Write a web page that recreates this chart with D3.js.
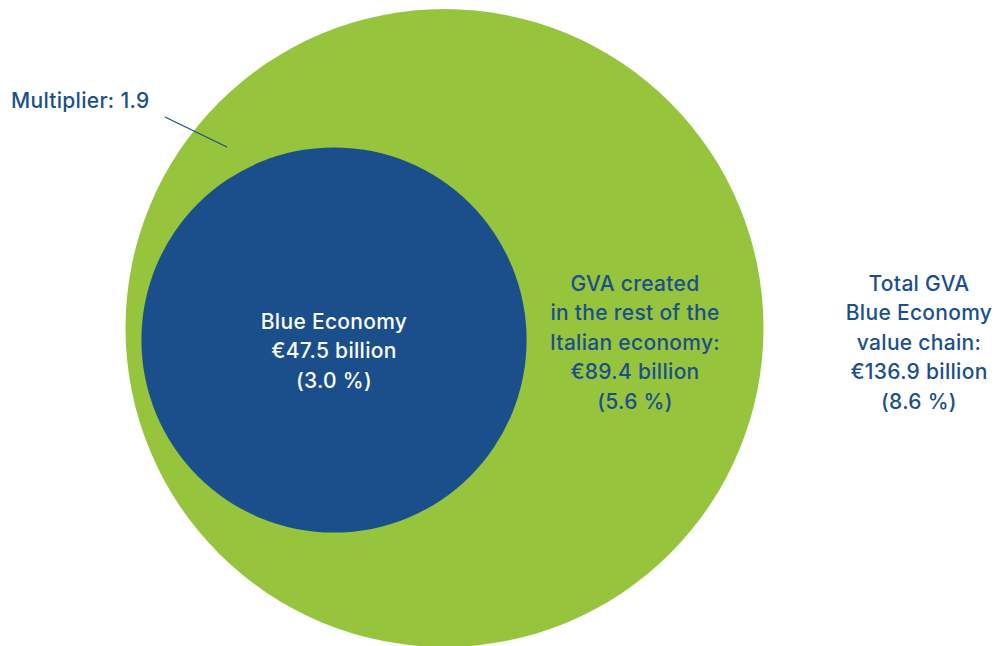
<!DOCTYPE html>
<html>
<head>
<meta charset="utf-8">
<script src="https://cdn.jsdelivr.net/npm/d3@7"></script>
<style>
  body { margin: 0; background: #fff; }
  svg text { font-family: Inter, 'Open Sans', sans-serif; font-weight: 500; letter-spacing: 0.3px; }
</style>
</head>
<body>
<div id="chart"></div>
<script>
// nested circles: Blue Economy GVA inside total value chain GVA

const labelLines = [
    ['Blue Economy'],
    ['GVA created', 'in the rest of the', 'Italian economy:'],
    ['Total GVA', 'Blue Economy', 'value chain:']
];
const values = [47.5, 89.4, 136.9];     // € billion
const shares = [3.0, 5.6, 8.6];         // % of national GVA
const multiplier = 1.9;

const width = 996, height = 646;
const blue = '#1b4f8c', green = '#96c43c';

const svg = d3.select('#chart').append('svg')
    .attr('width', width)
    .attr('height', height);

// radius from value (area proportional)
const rScale = d3.scaleSqrt()
    .domain([0, values[2]])
    .range([0, 319]);

const outer = {cx: 444.5, cy: 328, r: rScale(values[2])};
const inner = {cx: 334, cy: 340, r: rScale(values[0]) * 1.025};

// circles
svg.append('circle')
    .attr('cx', outer.cx)
    .attr('cy', outer.cy)
    .attr('r', outer.r)
    .attr('fill', green);

svg.append('circle')
    .attr('cx', inner.cx)
    .attr('cy', inner.cy)
    .attr('r', inner.r)
    .attr('fill', blue);

// text blocks
const lineH = 29.5;
const fontSize = '21px';
const blocks = [
    {x: inner.cx, y: 328.5, color: '#fff', lines: labelLines[0].concat([`€${values[0]} billion`, `(${shares[0].toFixed(1)} %)`])},
    {x: 635, y: 290.5, color: blue, lines: labelLines[1].concat([`€${values[1]} billion`, `(${shares[1].toFixed(1)} %)`])},
    {x: 919, y: 290.5, color: blue, lines: labelLines[2].concat([`€${values[2]} billion`, `(${shares[2].toFixed(1)} %)`])}
];

blocks.forEach(function(b) {
    let t = svg.append('text')
        .attr('text-anchor', 'middle')
        .attr('fill', b.color)
        .style('font-size', fontSize);
    b.lines.forEach(function(l, i) {
        t.append('tspan')
            .attr('x', b.x)
            .attr('y', b.y + i * lineH)
            .text(l);
    });
});

// multiplier annotation
svg.append('text')
    .attr('x', 11)
    .attr('y', 107.5)
    .attr('fill', blue)
    .style('font-size', fontSize)
    .text('Multiplier: ' + multiplier);

// leader line into the green ring
const ang = Math.atan2(147 - outer.cy, 227 - outer.cx);
const ringR = 283;
const lineEnd = [outer.cx + ringR * Math.cos(ang), outer.cy + ringR * Math.sin(ang)];

svg.append('line')
    .attr('x1', 165)
    .attr('y1', 117)
    .attr('x2', lineEnd[0])
    .attr('y2', lineEnd[1])
    .attr('stroke', blue)
    .attr('stroke-width', 1.3);
</script>
</body>
</html>
